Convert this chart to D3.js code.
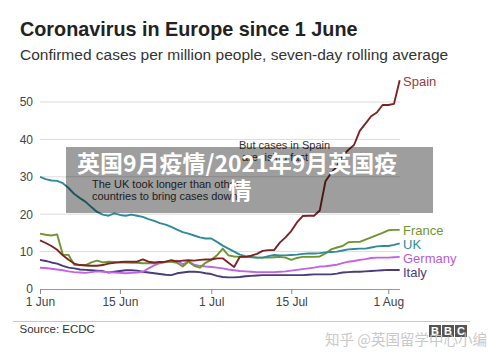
<!DOCTYPE html>
<html><head><meta charset="utf-8">
<script src="https://cdnjs.cloudflare.com/ajax/libs/d3/7.8.5/d3.min.js"></script>
<style>
html,body{margin:0;padding:0;background:#fff;}
svg{display:block;font-family:"Liberation Sans",Arial,sans-serif;}
</style></head>
<body>
<svg id="chart" width="500" height="360"></svg>
<script>
// ---- data (cases per million, 7-day avg), daily from 1 Jun to 3 Aug 2020 ----
const startDate = "2020-06-01";
const endDate = "2020-08-03";
const countries = ["Spain", "France", "UK", "Germany", "Italy"];
const spain = [13.0,12.3,11.5,10.5,9.0,7.8,6.8,6.4,6.3,6.2,6.2,6.4,6.8,7.0,7.2,7.3,7.3,7.3,7.9,7.3,
  7.1,7.2,7.3,7.7,7.4,7.6,7.7,7.6,7.8,7.9,7.9,8.2,8.2,7.0,5.9,8.6,8.6,8.9,9.4,10.2,
  10.4,10.4,12.4,13.8,15.5,17.8,19.5,19.6,19.6,21.0,28.8,31.0,32.8,35.5,37.2,38.5,42.3,44.2,46.2,47.2,
  49.2,49.2,49.5,55.8];
const france = [14.8,14.5,14.3,14.6,9.2,9.1,6.5,6.4,6.4,7.1,7.6,7.1,7.3,7.2,7.1,7.1,7.0,7.0,6.9,6.9,
  6.9,7.1,7.3,7.3,7.0,6.0,7.3,6.2,5.7,7.0,7.8,9.0,10.8,9.0,8.7,8.6,8.6,8.5,8.4,8.4,
  8.4,8.5,8.6,8.4,7.8,8.3,8.6,8.6,8.6,8.7,9.5,10.6,11.1,11.5,12.5,12.6,12.6,13.2,13.8,14.4,
  15.0,15.7,15.8,15.8];
const uk = [30.0,29.4,29.0,28.9,28.3,27.0,25.4,24.3,23.3,21.9,20.6,19.9,19.6,20.2,19.8,19.6,19.9,19.6,19.3,18.7,
  18.2,17.6,17.2,16.6,15.9,15.2,14.8,14.3,13.8,13.5,13.5,12.6,11.6,10.8,10.0,9.2,8.8,8.6,8.4,8.4,
  8.8,9.1,9.0,9.0,9.1,9.2,9.4,9.5,9.5,9.6,9.8,9.9,10.0,10.3,10.6,10.7,10.8,10.8,11.1,11.4,
  11.5,11.5,11.8,12.2];
const germany = [5.7,5.6,5.4,5.2,5.0,4.7,4.5,4.4,4.3,4.5,4.7,4.6,4.5,4.4,4.3,4.2,4.3,4.4,4.6,5.5,
  6.3,6.9,7.2,7.4,7.6,6.6,7.3,6.5,6.2,6.0,5.9,5.7,5.5,5.2,5.0,4.8,4.7,4.6,4.5,4.5,
  4.5,4.5,4.6,4.7,4.9,5.1,5.3,5.5,5.7,6.0,6.1,6.3,6.5,6.9,7.3,7.5,7.8,8.0,8.3,8.4,
  8.4,8.4,8.5,8.6];
const italy = [7.8,7.5,7.1,6.8,6.2,5.7,5.5,5.2,5.1,5.0,4.9,4.8,4.4,4.6,4.8,5.0,5.0,4.9,4.6,4.4,
  4.2,4.0,3.8,3.7,4.2,4.4,4.6,4.6,4.5,4.2,4.0,3.5,3.2,3.1,3.1,3.2,3.4,3.5,3.6,3.7,
  3.7,3.7,3.7,3.7,3.7,3.7,3.7,3.8,3.9,3.9,3.9,3.9,4.1,4.4,4.5,4.6,4.6,4.7,4.8,4.9,
  5.0,5.1,5.1,5.1];
const yTicks = [0, 10, 20, 30, 40, 50];
const xTickDates = ["2020-06-01", "2020-06-15", "2020-07-01", "2020-07-15", "2020-08-01"];
const xTickLabels = ["1 Jun", "15 Jun", "1 Jul", "15 Jul", "1 Aug"];

// ---- styling ----
const lineColors = {Spain:"#7a2424", France:"#6f9530", UK:"#2e8a9c", Germany:"#c064e4", Italy:"#4a3b7c"};
const labelColors = {Spain:"#9a3c3c", France:"#6f9530", UK:"#2e8a9c", Germany:"#b85ad8", Italy:"#4a3b7c"};
const labelY = {Spain:86, France:235, UK:249, Germany:263, Italy:276.5};
const seriesMap = {Spain:spain, France:france, UK:uk, Germany:germany, Italy:italy};

const parse = d3.utcParse("%Y-%m-%d");
const dates = d3.utcDay.range(parse(startDate), d3.utcDay.offset(parse(endDate), 1));

const svg = d3.select("#chart");
const x = d3.scaleUtc().domain([parse(startDate), parse(endDate)]).range([40, 399.7]);
const y = d3.scaleLinear().domain([0, 50]).range([289, 102]);

// title
svg.append("text").attr("x", 20).attr("y", 36).attr("font-size", 19.8).attr("font-weight", "bold")
  .attr("fill", "#222").text("Coronavirus in Europe since 1 June");
svg.append("text").attr("x", 20).attr("y", 60).attr("font-size", 15.5)
  .attr("fill", "#333").text("Confirmed cases per million people, seven-day rolling average");

// grid
const grid = svg.append("g");
grid.selectAll("line").data(yTicks.filter(v => v > 0)).join("line")
  .attr("x1", 40).attr("x2", 400).attr("y1", d => y(d)).attr("y2", d => y(d))
  .attr("stroke", "#dcdcdc").attr("stroke-width", 1);

// y axis labels
svg.append("g").selectAll("text").data(yTicks).join("text")
  .attr("x", 33).attr("y", d => y(d) + 4.3).attr("text-anchor", "end")
  .attr("font-size", 12).attr("fill", "#444").text(d => d);

// x axis
const xAxis = d3.axisBottom(x)
  .tickValues(xTickDates.map(parse))
  .tickFormat((d, i) => xTickLabels[i])
  .tickSize(5).tickSizeOuter(0).tickPadding(3);
const gx = svg.append("g").attr("transform", "translate(0,289)").call(xAxis);
gx.select(".domain").attr("d", "M40,0.5H400").attr("stroke", "#999");
gx.selectAll(".tick line").attr("stroke", "#888");
gx.selectAll(".tick text").attr("font-size", 12).attr("fill", "#444")
  .attr("font-family", "'Liberation Sans',Arial,sans-serif");

// lines
const line = d3.line().x((d, i) => x(dates[i])).y(d => y(d)).curve(d3.curveLinear);
const order = ["Italy", "Germany", "France", "UK", "Spain"];
svg.append("g").selectAll("path").data(order).join("path")
  .attr("d", c => line(seriesMap[c]))
  .attr("fill", "none").attr("stroke", c => lineColors[c])
  .attr("stroke-width", 1.9).attr("stroke-linejoin", "round");

// series labels
svg.append("g").selectAll("text").data(countries).join("text")
  .attr("x", 403).attr("y", c => labelY[c]).attr("font-size", 13)
  .attr("fill", c => labelColors[c]).text(c => c);

// annotations
const ann1 = svg.append("text").attr("font-size", 11).attr("fill", "#333");
ann1.append("tspan").attr("x", 92).attr("y", 187.5).text("The UK took longer than other");
ann1.append("tspan").attr("x", 92).attr("y", 199.5).text("countries to bring cases down");
const ann2 = svg.append("text").attr("font-size", 11).attr("fill", "#333");
ann2.append("tspan").attr("x", 239).attr("y", 148.5).text("But cases in Spain");
ann2.append("tspan").attr("x", 242).attr("y", 160.5).text("are rising fast");

// footer
svg.append("line").attr("x1", 13).attr("x2", 470).attr("y1", 321.5).attr("y2", 321.5)
  .attr("stroke", "#c8c8c8");
svg.append("text").attr("x", 19.5).attr("y", 333).attr("font-size", 11.5).attr("fill", "#333")
  .text("Source: ECDC");
const bbc = svg.append("g");
["B", "B", "C"].forEach((ch, i) => {
  bbc.append("rect").attr("x", 429 + i * 13).attr("y", 325).attr("width", 12).attr("height", 12).attr("fill", "#555");
  bbc.append("text").attr("x", 435 + i * 13).attr("y", 335).attr("text-anchor", "middle")
    .attr("font-size", 11).attr("font-weight", "bold").attr("fill", "#fff").text(ch);
});
svg.append("text").attr("x", 325).attr("y", 345).attr("font-size", 14.5)
  .attr("font-family", "'Noto Sans CJK SC',sans-serif").attr("fill", "#c4c4c4").attr("opacity", 0.9)
  .text("知乎 @英国留学中心小编");

// overlay banner
svg.append("rect").attr("x", 66).attr("y", 147).attr("width", 367).attr("height", 66)
  .attr("fill", "#000").attr("opacity", 0.38);
const ov = svg.append("text").attr("font-family", "'Noto Sans CJK SC',sans-serif")
  .attr("font-weight", "bold").attr("font-size", 23).attr("fill", "#fff");
ov.append("tspan").attr("x", 77).attr("y", 172).text("英国9月疫情/2021年9月英国疫");
ov.append("tspan").attr("x", 240).attr("y", 199).attr("text-anchor", "middle").text("情");
</script>
</body></html>
